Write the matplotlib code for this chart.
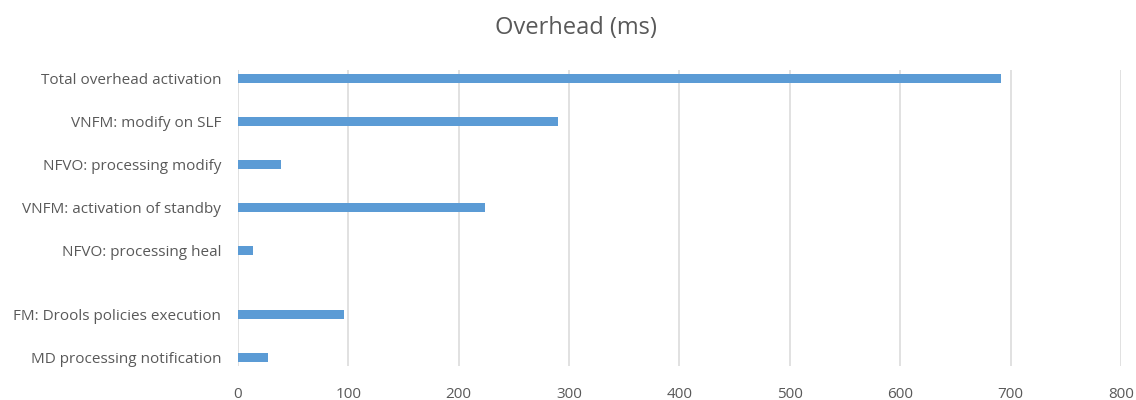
import matplotlib
matplotlib.use("Agg")
import matplotlib.pyplot as plt

categories = [
    "Total overhead activation",
    "VNFM: modify on SLF",
    "NFVO: processing modify",
    "VNFM: activation of standby",
    "NFVO: processing heal",
    "FM: Drools policies execution",
    "MD processing notification",
]
overhead_ms = [691, 290, 39, 224, 14, 96, 27]
row_pos = [0, 1, 2, 3, 4, 5.5, 6.5]
x_ticks = [0, 100, 200, 300, 400, 500, 600, 700, 800]

plt.rcParams["font.family"] = ["Open Sans", "DejaVu Sans"]
text_color = "#595959"

fig = plt.figure(figsize=(11.36, 4.0), dpi=100)
ax = fig.add_axes([0.2095, 0.085, 0.7773, 0.74])

ax.barh(row_pos, overhead_ms, height=0.21, color="#5b9bd5", zorder=3)

ax.set_xlim(0, 800)
ax.set_ylim(6.71, -0.21)
ax.set_xticks(x_ticks)
ax.set_yticks(row_pos)
ax.set_yticklabels(categories)
ax.grid(axis="x", color="#dcdcdc", linewidth=1.2, zorder=0)
for s in ax.spines.values():
    s.set_visible(False)
ax.tick_params(axis="both", length=0, colors=text_color, labelsize=11)
ax.tick_params(axis="y", pad=12)
ax.tick_params(axis="x", pad=15)

fig.text(0.5066, 0.93, "Overhead (ms)", ha="center", va="center",
         fontsize=17, color=text_color)

fig.savefig("out.png", dpi=100)
